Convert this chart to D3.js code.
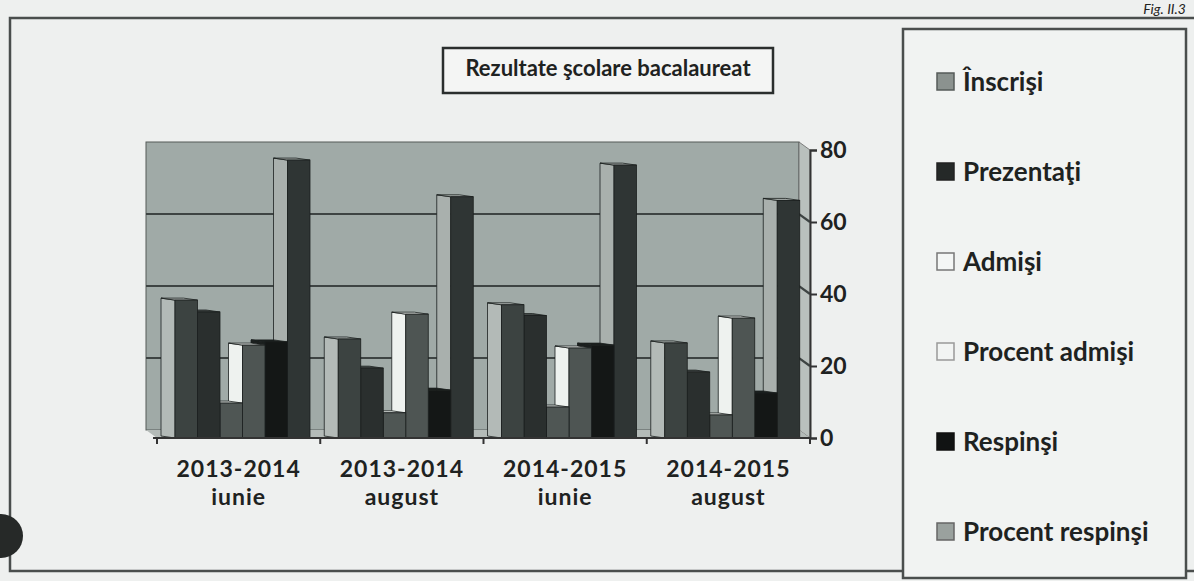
<!DOCTYPE html>
<html><head><meta charset="utf-8">
<script src="https://cdn.jsdelivr.net/npm/d3@7"></script>
<style>
html,body{margin:0;padding:0;background:#eef0ef;}
svg{display:block;}
text{font-family:Lato,"Open Sans",sans-serif;font-weight:bold;fill:#1e2221;}
</style></head>
<body>
<svg id="chart" width="1194" height="581"></svg>
<script>
const categories = [["2013-2014","iunie"],["2013-2014","august"],["2014-2015","iunie"],["2014-2015","august"]];
const seriesNames = ["Înscrişi","Prezentaţi","Admişi","Procent admişi","Respinşi","Procent respinşi"];
const inscrisi        = [38.3, 27.5, 37.0, 26.4];
const prezentati      = [35.0, 19.4, 34.0, 18.3];
const admisi          = [9.7, 7.0, 8.6, 6.4];
const procentAdmisi   = [25.8, 34.4, 25.0, 33.3];
const respinsi        = [26.7, 13.3, 25.8, 12.5];
const procentRespinsi = [77.2, 67.0, 75.8, 66.0];
const yTicks = [0, 20, 40, 60, 80];
const gridValues = [20, 40, 60];

const seriesValues = [inscrisi, prezentati, admisi, procentAdmisi, respinsi, procentRespinsi];
const frontColors = ["#3c4341","#2a2f2e","#4f5654","#4e5553","#141716","#2f3534"];
const sideColors  = ["#b3bab7","#464c4a","#e6ebe8","#eef2ef","#1c201f","#a9b0ad"];
const legendFill  = ["#8b928f","#252928","#f4f6f5","#f2f4f3","#111313","#9aa19e"];
const legendStroke= ["#555b59","#222","#777","#999","#111","#666"];

const svg = d3.select("#chart");
const labelCats = categories.map(c => c.join(" "));

// outer frame
svg.append("rect").attr("x",10).attr("y",18).attr("width",1200).attr("height",553)
  .attr("fill","none").attr("stroke","#4a4e4d").attr("stroke-width",2.5);
// Fig label
svg.append("text").attr("x",1186).attr("y",14).attr("text-anchor","end").attr("font-size",14).attr("font-style","italic")
  .style("font-weight","normal").attr("fill","#333").text("Fig. II.3");
// punch hole
svg.append("circle").attr("cx",1).attr("cy",536).attr("r",22).attr("fill","#262928");

// scales
const x0 = d3.scaleBand().domain(labelCats).range([157, 810]).paddingInner(0).paddingOuter(0);
const x1 = d3.scaleBand().domain(seriesNames).range([18, 153]);
const yF = d3.scaleLinear().domain([0, 80]).range([438, 150]);
const DX = -11, DY = -8;        // wall depth offset
const BX = -14, BY = -2;        // bar depth offset

const xL = 157, xR = 810;
// back wall
svg.append("rect").attr("x", xL+DX).attr("y", yF(80)+DY).attr("width", xR-xL).attr("height", yF(0)-yF(80))
  .attr("fill","#a0aaa7").attr("stroke","#555b59").attr("stroke-width",1);
// side wall (right)
svg.append("polygon").attr("points", [[xR+DX,yF(80)+DY],[xR,yF(80)],[xR,yF(0)],[xR+DX,yF(0)+DY]].join(" "))
  .attr("fill","#b9c0bd").attr("stroke","#666").attr("stroke-width",0.8);
// floor
svg.append("polygon").attr("points", [[xL+DX,yF(0)+DY],[xR+DX,yF(0)+DY],[xR,yF(0)],[xL,yF(0)]].join(" "))
  .attr("fill","#b4bbb8");
// gridlines
gridValues.forEach(v => {
  svg.append("polyline").attr("points", [[xL+DX, yF(v)+DY],[xR+DX, yF(v)+DY],[xR, yF(v)]].join(" "))
    .attr("fill","none").attr("stroke","#3e4443").attr("stroke-width",2.2);
});

// bars
const g = svg.append("g");
for (let c = categories.length - 1; c >= 0; c--) {
  for (let s = seriesNames.length - 1; s >= 0; s--) {
    const v = seriesValues[s][c];
    const x = x0(labelCats[c]) + x1(seriesNames[s]);
    const w = x1.bandwidth();
    const yt = yF(v), yb = yF(0);
    g.append("polygon").attr("points", [[x,yt],[x+BX,yt+BY],[x+BX,yb+BY],[x,yb]].join(" "))
      .attr("fill", sideColors[s]).attr("stroke","#1b1f1e").attr("stroke-width",0.8);
    g.append("polygon").attr("points", [[x,yt],[x+w,yt],[x+w+BX,yt+BY],[x+BX,yt+BY]].join(" "))
      .attr("fill", sideColors[s]).attr("stroke","#1b1f1e").attr("stroke-width",0.8);
    g.append("rect").attr("x", x).attr("y", yt).attr("width", w).attr("height", yb-yt)
      .attr("fill", frontColors[s]).attr("stroke","#1b1f1e").attr("stroke-width",0.8);
  }
}

// right value axis
const yAxis = d3.axisRight(yF).tickValues(yTicks).tickSize(7).tickPadding(3).tickFormat(d3.format("d"));
const ya = svg.append("g").attr("transform", `translate(${xR},0)`).call(yAxis);
ya.select(".domain").attr("stroke","#333").attr("stroke-width",2);
ya.selectAll(".tick line").attr("stroke","#333").attr("stroke-width",2);
ya.selectAll(".tick text").attr("font-size",23).attr("font-family","Lato, 'Open Sans', sans-serif")
  .style("font-weight","bold").attr("fill","#1e2221");

// bottom category axis
svg.append("line").attr("x1", xL-4).attr("x2", xR).attr("y1", yF(0)).attr("y2", yF(0))
  .attr("stroke","#333").attr("stroke-width",2);
const bounds = labelCats.map(c => x0(c)).concat([xR]);
svg.selectAll(".ctick").data(bounds).enter().append("line")
  .attr("x1", d => d).attr("x2", d => d).attr("y1", yF(0)).attr("y2", yF(0)+6)
  .attr("stroke","#333").attr("stroke-width",2);
categories.forEach((c, i) => {
  const cx = x0(labelCats[i]) + x0.bandwidth()/2;
  svg.append("text").attr("x", cx).attr("y", 477).attr("text-anchor","middle").attr("font-size",23)
    .attr("letter-spacing",1).text(c[0]);
  svg.append("text").attr("x", cx).attr("y", 505).attr("text-anchor","middle").attr("font-size",23)
    .attr("letter-spacing",1).text(c[1]);
});

// title box
svg.append("rect").attr("x",443).attr("y",48).attr("width",330).attr("height",45)
  .attr("fill","#f4f5f4").attr("stroke","#2a2e2d").attr("stroke-width",2.5);
svg.append("text").attr("x",608).attr("y",76).attr("text-anchor","middle").attr("font-size",22)
  .text("Rezultate şcolare bacalaureat");

// legend
svg.append("rect").attr("x",903).attr("y",29).attr("width",283).attr("height",549)
  .attr("fill","#f1f3f2").attr("stroke","#4a4e4d").attr("stroke-width",2.5);
const legendY = d3.scalePoint().domain(seriesNames).range([82, 532]);
const lg = svg.append("g").selectAll("g").data(seriesNames).enter().append("g")
  .attr("transform", d => `translate(937, ${legendY(d)})`);
lg.append("rect").attr("x",0).attr("y",-9).attr("width",17).attr("height",17)
  .attr("fill",(d,i)=>legendFill[i]).attr("stroke",(d,i)=>legendStroke[i]).attr("stroke-width",1.5);
lg.append("text").attr("x",26).attr("y",9).attr("font-size",26).text(d => d);
</script>
</body></html>
